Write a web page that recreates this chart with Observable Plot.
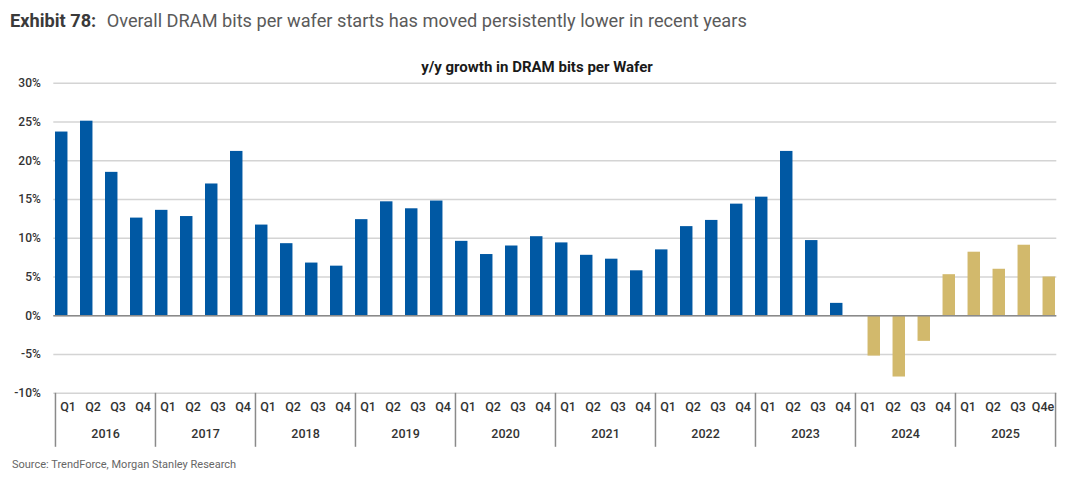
<!DOCTYPE html>
<html>
<head>
<meta charset="utf-8">
<script src="https://cdn.jsdelivr.net/npm/d3@7"></script>
<script src="https://cdn.jsdelivr.net/npm/@observablehq/plot@0.6"></script>
<style>
  html, body { margin: 0; padding: 0; background: #fff; }
  body { width: 1080px; height: 482px; position: relative; overflow: hidden; font-family: Roboto, "Noto Sans", sans-serif; }
  #exhibit { position: absolute; left: 10px; top: 11px; font-size: 18.2px; line-height: 20px; color: #5a5a5a; white-space: nowrap; }
  #exhibit b { color: #3a3a3a; font-weight: 700; margin-right: 6px; }
  #chartTitle { position: absolute; left: 0; width: 1074px; top: 58px; text-align: center; font-size: 15px; line-height: 18px; font-weight: 700; color: #1a1a1a; }
  #plot { position: absolute; left: 0; top: 0; }
  #source { position: absolute; left: 12px; top: 458px; font-size: 11px; line-height: 14px; color: #666; white-space: nowrap; }
</style>
</head>
<body>
<div id="plot"></div>
<div id="exhibit"><b>Exhibit 78:</b> Overall DRAM bits per wafer starts has moved persistently lower in recent years</div>
<div id="chartTitle">y/y growth in DRAM bits per Wafer</div>
<div id="source">Source: TrendForce, Morgan Stanley Research</div>
<script>
// ---- data ----
const years = [2016, 2017, 2018, 2019, 2020, 2021, 2022, 2023, 2024, 2025];
const quarterLabels = ["Q1", "Q2", "Q3", "Q4"];
const lastQuarterLabel = "Q4e";
// actual y/y growth (%), 2016 Q1 – 2023 Q4
const actualGrowth = [
  23.7, 25.1, 18.5, 12.6,
  13.6, 12.8, 17.0, 21.2,
  11.7, 9.3, 6.8, 6.4,
  12.4, 14.7, 13.8, 14.8,
  9.6, 7.9, 9.0, 10.2,
  9.4, 7.8, 7.3, 5.8,
  8.5, 11.5, 12.3, 14.4,
  15.3, 21.2, 9.7, 1.6
];
// 2024 Q1 – 2025 Q4e
const forecastGrowth = [
  -5.2, -7.9, -3.3, 5.3,
  8.2, 6.0, 9.1, 5.0
];
const yTicks = [-10, -5, 0, 5, 10, 15, 20, 25, 30];

// ---- build rows ----
const rows = [];
years.forEach((yr, yi) => {
  quarterLabels.forEach((q, qi) => {
    const i = yi * 4 + qi;
    const isLast = yi === years.length - 1 && qi === quarterLabels.length - 1;
    const actual = i < actualGrowth.length;
    rows.push({
      key: `${yr} ${q}`,
      label: isLast ? lastQuarterLabel : q,
      value: actual ? actualGrowth[i] : forecastGrowth[i - actualGrowth.length],
      series: actual ? "actual" : "forecast"
    });
  });
});
const keys = rows.map(d => d.key);
const actualRows = rows.filter(d => d.series === "actual");
const forecastRows = rows.filter(d => d.series === "forecast");
const yearStarts = years.map(y => `${y} ${quarterLabels[0]}`);

// ---- layout ----
const W = 1080, H = 455;
const mL = 53.3, mR = 23.7, mT = 82.7, mB = 62.2;
const bw = (W - mL - mR) / keys.length;
const blue = "#0058A3", gold = "#D2B96C";

const chart = Plot.plot({
  width: W, height: H,
  marginLeft: mL, marginRight: mR, marginTop: mT, marginBottom: mB,
  style: { fontFamily: "Roboto, sans-serif", fontSize: "12px", color: "#333", background: "transparent" },
  x: { type: "band", domain: keys, padding: 0, label: null },
  y: { domain: [yTicks[0], yTicks[yTicks.length - 1]], label: null },
  marks: [
    Plot.gridY(yTicks, { stroke: "#d4d4d4", strokeOpacity: 1, strokeWidth: 1.5 }),
    Plot.axisY(yTicks, { label: null, tickSize: 0, tickPadding: 13, tickFormat: d => d + "%", fontSize: 12, fontWeight: 500, fill: "#333" }),
    Plot.barY(actualRows, { x: "key", y: "value", fill: blue, insetRight: bw / 2 }),
    Plot.barY(forecastRows, { x: "key", y: "value", fill: gold, insetLeft: bw / 2 }),
    Plot.ruleY([0], { stroke: "#8a8a8a", strokeWidth: 1.5 }),
    Plot.axisX(yearStarts, { label: null, anchor: "bottom", tickSize: 54, tickFormat: () => "", dx: -bw / 2, stroke: "#8a8a8a", strokeWidth: 1.5 }),
    Plot.axisX([keys[keys.length - 1]], { label: null, anchor: "bottom", tickSize: 54, tickFormat: () => "", dx: bw / 2, stroke: "#8a8a8a", strokeWidth: 1.5 }),
    Plot.text(rows, { x: "key", text: "label", frameAnchor: "bottom", dy: 17.5, fontSize: 12.5, fontWeight: 500, fill: "#333" }),
    Plot.text(years, { x: y => `${y} ${quarterLabels[1]}`, text: y => String(y), frameAnchor: "bottom", dy: 44.5, dx: bw / 2, fontSize: 12.5, fontWeight: 500, fill: "#333" })
  ]
});
document.getElementById("plot").appendChild(chart);
</script>
</body>
</html>
